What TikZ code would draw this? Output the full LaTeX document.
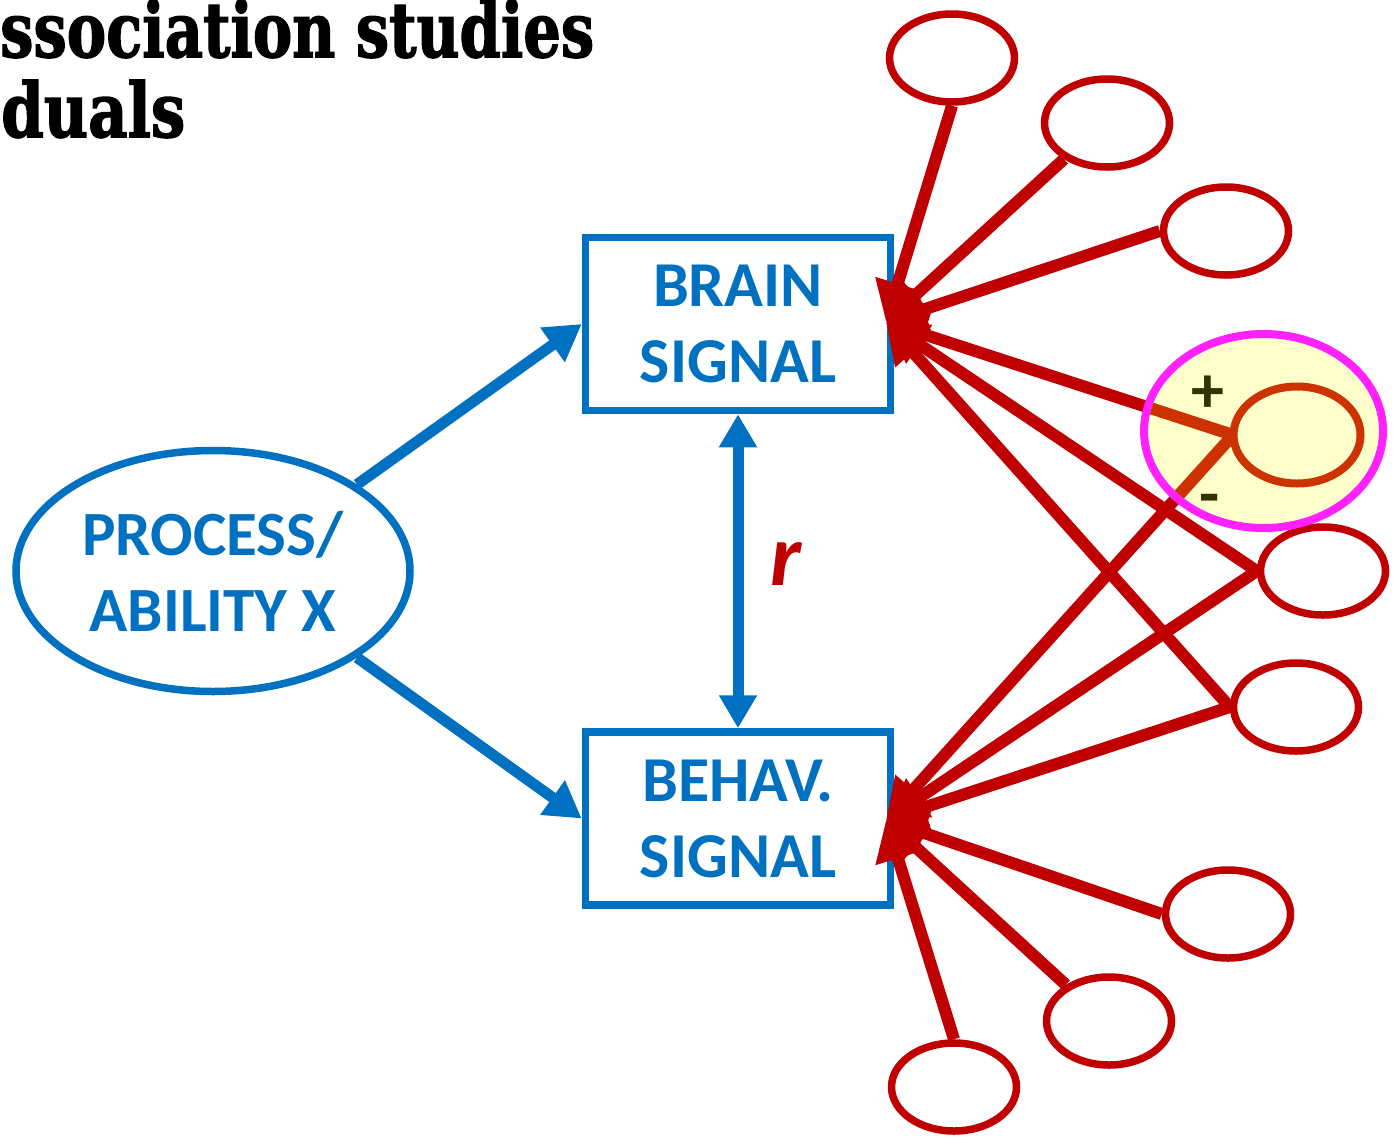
\documentclass[tikz,border=0pt]{standalone}
\usepackage{fontspec}
\usepackage{graphicx}
\setmainfont{Carlito}
\newfontfamily\headfont{DejaVu Serif}[UprightFont={* Bold}, FakeBold=2]
\usetikzlibrary{shapes.geometric,arrows.meta}
\definecolor{myblue}{HTML}{0070C0}
\definecolor{myred}{HTML}{C00000}
\definecolor{myorange}{HTML}{CC3300}
\definecolor{hlfill}{HTML}{FFFFCC}
\definecolor{hlborder}{HTML}{FF22FF}
\definecolor{pmcol}{HTML}{333300}
\tikzset{
  sigbox/.style={draw=myblue, line width=7.5pt, minimum width=305pt, minimum height=173pt, inner sep=0pt,
    align=center, text=myblue, font=\fontsize{64}{76}\selectfont\bfseries},
  procell/.style={ellipse, draw=myblue, line width=7.5pt, minimum width=394pt, minimum height=241pt, inner sep=0pt,
    align=center, text=myblue, font=\fontsize{63}{76}\selectfont\bfseries},
  smallell/.style={ellipse, draw=myred, fill=white, line width=7.5pt, minimum width=125pt, minimum height=88pt, inner sep=0pt},
  blueArrow/.style={draw=myblue, line width=11pt, -{Triangle[length=36pt,width=40pt]}},
  redArrow/.style={draw=myred, line width=12pt, -{Triangle[length=40pt,width=44pt]}},
  orangeLine/.style={draw=myorange, line width=12pt},
  pm/.style={text=pmcol, font=\fontsize{66}{66}\selectfont\bfseries, inner sep=0pt},
}
\begin{document}
\begin{tikzpicture}[x=1pt,y=-1pt]
\useasboundingbox (0,0) rectangle (1397,1138);
% header
\node[anchor=base west, inner sep=0pt] (h1) at (0,57) {\resizebox{594pt}{58pt}{\headfont ssociation studies}};
\node[anchor=base west, inner sep=0pt] (h2) at (1,137) {\resizebox{184pt}{57pt}{\headfont duals}};
% main nodes
\node[procell] (proc) at (213,571) {PROCESS/\\ABILITY X};
\node[sigbox] (brain) at (738,324) {BRAIN\\SIGNAL};
\node[sigbox] (behav) at (738,818.5) {BEHAV.\\SIGNAL};
\node[text=myred, font=\fontsize{88}{88}\selectfont\bfseries\itshape, inner sep=0pt] (r) at (786,564) {r};
% blue arrows
\draw[blueArrow] (proc.31) -- (brain.west);
\draw[blueArrow] (proc.-31) -- (behav.west);
\draw[draw=myblue, line width=11pt, {Triangle[length=33pt,width=36pt]}-{Triangle[length=33pt,width=36pt]}] (brain.south) -- (behav.north);
% small ellipses
\node[smallell] (e1) at (952,58) {};
\node[smallell] (e2) at (1107,123) {};
\node[smallell] (e3) at (1226,231) {};
\node[smallell] (e5) at (1323,571) {};
\node[smallell] (e6) at (1296,707) {};
\node[smallell] (e7) at (1228,914) {};
\node[smallell] (e8) at (1109,1021) {};
\node[smallell] (e9) at (954,1087) {};
\coordinate (ehlw) at (1233,435);
\coordinate (bt) at (886,322);
\coordinate (bh) at (886,820);
% red connectors
\draw[redArrow] (e1.south) -- (bt);
\draw[redArrow] (e2.-140) -- (bt);
\draw[redArrow] (e3.west) -- (bt);
\draw[redArrow] (ehlw) -- (bt);
\draw[redArrow] (e5.west) -- (bt);
\draw[redArrow] (e6.west) -- (bt);
\draw[redArrow] (ehlw) -- (bh);
\draw[redArrow] (e5.west) -- (bh);
\draw[redArrow] (e6.west) -- (bh);
\draw[redArrow] (e7.west) -- (bh);
\draw[redArrow] (e8.140) -- (bh);
\draw[redArrow] (e9.north) -- (bh);
% highlight
\node[ellipse, draw=hlborder, fill=hlfill, line width=8pt, minimum width=239pt, minimum height=194pt, inner sep=0pt] (hl) at (1263.5,431) {};
\begin{scope}
\clip (1263.5,431) ellipse (115.5pt and 93pt);
\draw[orangeLine] (ehlw) -- (bt);
\draw[orangeLine] (ehlw) -- (bh);
\end{scope}
\node[ellipse, draw=myorange, fill=hlfill, line width=8pt, minimum width=127pt, minimum height=97pt, inner sep=0pt] (ehl) at (1297,435) {};
\node[pm] (plus) at (1208,394) {+};
\node[pm] (minus) at (1210,505) {-};
\end{tikzpicture}
\end{document}
